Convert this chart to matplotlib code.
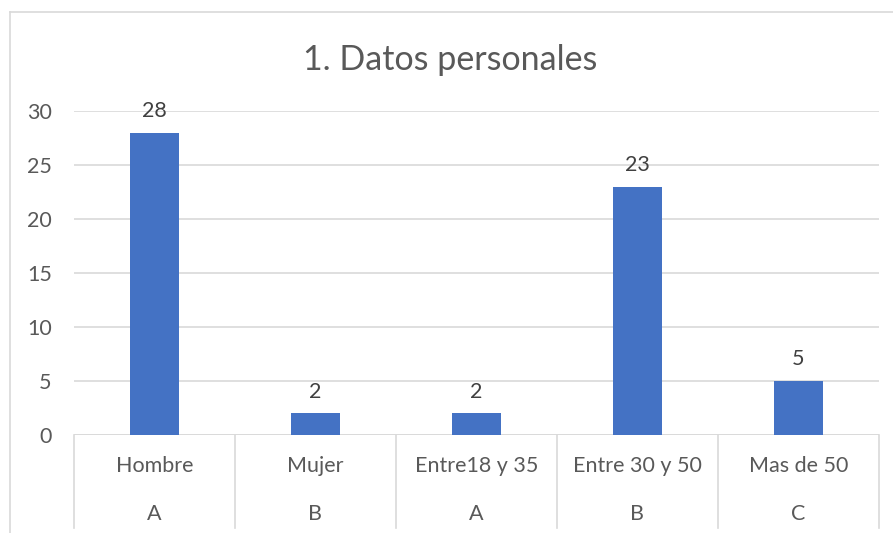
import numpy as np
import matplotlib.pyplot as plt
from matplotlib.lines import Line2D

categorias = ['Hombre', 'Mujer', 'Entre18 y 35', 'Entre 30 y 50', 'Mas de 50']
grupos = ['A', 'B', 'A', 'B', 'C']
valores = [28, 2, 2, 23, 5]
yticks = [0, 5, 10, 15, 20, 25, 30]

plt.rcParams['font.family'] = ['Lato', 'DejaVu Sans']
gris = '#d9d9d9'
texto = '#595959'

fig = plt.figure(figsize=(8.93, 5.33), dpi=100)
ax = fig.add_axes([74/893, 98/533, 805/893, 324/533])

x = np.arange(len(valores))
ax.bar(x, valores, width=0.31, color='#4472c4', zorder=3)
for xi, v in zip(x, valores):
    ax.text(xi, v + 1.1, str(v), ha='center', va='bottom', fontsize=15.5, color='#404040')

ax.set_xlim(-0.5, len(valores) - 0.5)
ax.set_ylim(0, 30)
ax.set_yticks(yticks)
ax.set_yticklabels([str(t) for t in yticks], fontsize=15.5, color=texto)
ax.tick_params(axis='y', length=0, pad=16)
ax.set_xticks([])
ax.grid(axis='y', color=gris, linewidth=1.2, zorder=0)
for s in ax.spines.values():
    s.set_visible(False)
ax.axhline(0, color=gris, linewidth=1.2, zorder=2)

trans = ax.get_xaxis_transform()
for b in np.arange(len(valores) + 1) - 0.5:
    ax.plot([b, b], [0, -0.287], color=gris, linewidth=1.2, transform=trans, clip_on=False)
for xi, c, g in zip(x, categorias, grupos):
    ax.text(xi, -0.096, c, ha='center', va='center', fontsize=15.5, color=texto, transform=trans)
    ax.text(xi, -0.244, g, ha='center', va='center', fontsize=15.5, color=texto, transform=trans)

fig.text(450/893, 1 - 60/533, '1. Datos personales', ha='center', va='center', fontsize=24.5, color=texto)

# marco del grafico
fig.add_artist(Line2D([10/893, 10/893], [0, 1 - 12/533], color=gris, linewidth=1.2, transform=fig.transFigure))
fig.add_artist(Line2D([10/893, 1], [1 - 12/533, 1 - 12/533], color=gris, linewidth=1.2, transform=fig.transFigure))

fig.savefig('out.png', dpi=100)
